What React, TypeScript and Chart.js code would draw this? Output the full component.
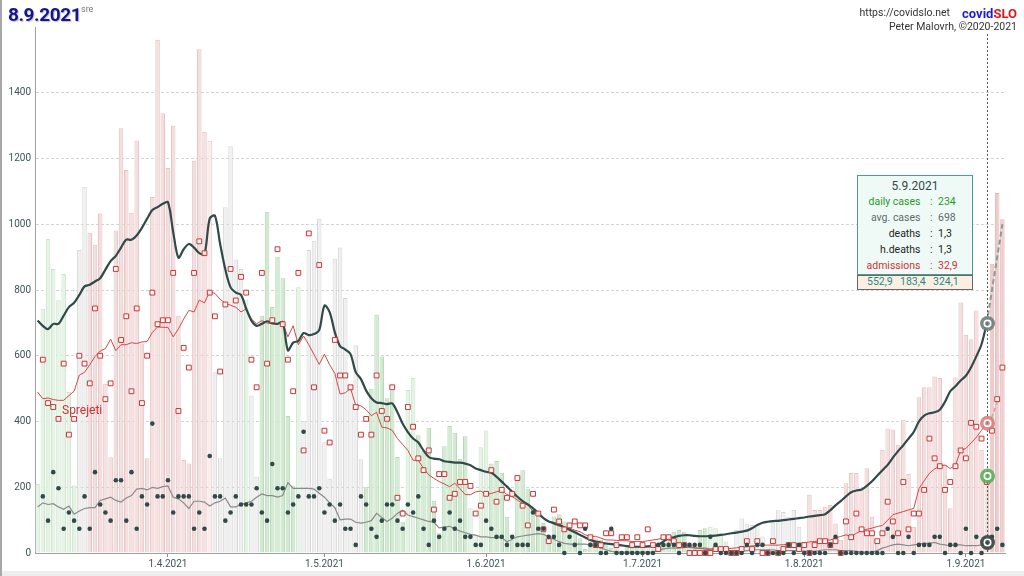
import React, { useEffect, useRef } from 'react';
import { Chart, registerables } from 'chart.js';

Chart.register(...registerables);

// ---------- DATA ----------
const START_DATE = [2021, 2, 7]; // 7.3.2021 (year, monthIndex, day)
const X_TICK_LABELS = ['1.4.2021', '1.5.2021', '1.6.2021', '1.7.2021', '1.8.2021', '1.9.2021'];

// daily confirmed cases
const CASES = [
  210, 743, 955, 864, 769, 849, 490, 205, 922, 1114,
  974, 938, 1033, 515, 291, 981, 1292, 1165, 1035, 1255,
  637, 288, 1083, 1561, 1338, 1171, 1300, 722, 283, 272,
  1193, 1532, 1281, 1253, 550, 288, 1052, 1237, 893, 864,
  771, 479, 233, 722, 1038, 748, 901, 836, 417, 205,
  808, 402, 922, 950, 1017, 337, 226, 895, 929, 776,
  510, 632, 285, 200, 500, 725, 598, 471, 494, 292,
  95, 496, 532, 358, 310, 381, 159, 60, 325, 386,
  366, 287, 355, 136, 55, 322, 373, 272, 280, 244,
  110, 40, 222, 252, 196, 131, 116, 91, 30, 111,
  118, 96, 80, 70, 45, 12, 50, 45, 40, 35,
  15, 20, 5, 25, 25, 22, 20, 18, 12, 4,
  30, 55, 65, 70, 65, 30, 12, 70, 75, 80,
  75, 60, 35, 15, 70, 105, 90, 85, 85, 50,
  20, 100, 130, 125, 110, 131, 80, 30, 177, 131,
  131, 141, 146, 90, 40, 212, 243, 243, 192, 258,
  110, 40, 314, 379, 376, 329, 405, 240, 80, 474,
  504, 504, 537, 532, 268, 136, 534, 762, 664, 650,
  738, 314, 234, 880, 1095, 1015,
];

// trend class of each day's bar: g = falling (light), G = falling, w = flat, p = rising, q = rising (light), h = latest days
const BAR_TREND_RUNS: [string, number][] = [
  ['g', 8], ['w', 2], ['p', 23], ['q', 1], ['w', 6], ['g', 1], ['w', 2], ['G', 7], ['g', 1], ['w', 12],
  ['G', 8], ['g', 2], ['G', 10], ['g', 4], ['G', 30], ['g', 3], ['G', 9], ['g', 5], ['w', 13], ['p', 36], ['h', 3],
];

// 7-day average of cases
const AVG_CASES = [
  707, 691, 681, 697, 697, 722, 748, 761, 785, 811,
  816, 826, 836, 862, 888, 904, 929, 953, 953, 966,
  989, 1017, 1043, 1052, 1062, 1067, 976, 898, 924, 940,
  929, 912, 909, 1017, 1026, 940, 862, 808, 792, 785,
  743, 707, 691, 697, 705, 699, 697, 702, 616, 640,
  645, 669, 663, 666, 678, 753, 733, 671, 629, 619,
  605, 550, 529, 494, 471, 458, 456, 453, 455, 428,
  393, 368, 348, 336, 312, 292, 287, 285, 279, 277,
  275, 275, 272, 267, 257, 252, 247, 244, 232, 217,
  202, 186, 171, 158, 148, 136, 121, 106, 96, 91,
  86, 78, 71, 63, 55, 47, 40, 35, 32, 29,
  27, 25, 23, 21, 19, 19, 19, 20, 22, 25,
  35, 45, 48, 52, 54, 54, 52, 51, 51, 52,
  53, 55, 57, 60, 62, 65, 68, 75, 85, 92,
  95, 97, 98, 100, 102, 104, 106, 108, 111, 113,
  115, 118, 130, 145, 158, 172, 185, 190, 193, 204,
  218, 235, 252, 268, 290, 310, 328, 348, 368, 400,
  418, 425, 428, 436, 460, 492, 507, 525, 539, 565,
  598, 635, 698, null, null, null,
];
// projected average (dashed)
const AVG_PROJECTION_TAIL = [698, 800, 900, 1000];

// hospital admissions per day ("Sprejeti")
const ADMISSIONS = [
  null, 49, 38, 37, 34, 48, 30, 34, 50, 48,
  43, 62, 50, 39, 43, 72, 54, 60, 41, 62,
  38, 50, 66, 58, 59, 59, 71, 36, 52, 47,
  71, 79, 76, 66, 60, 46, 63, 72, 64, 70,
  66, 49, 42, 71, 48, 59, 77, 58, 49, 41,
  71, 26, 81, 42, 73, 31, 28, 54, 45, 45,
  42, 37, 30, 34, 30, 45, 36, 34, 42, 14,
  10, 37, 32, 24, 21, 26, 11, 20, 20, 14,
  15, 18, 18, 17, 10, 12, 15, 21, 13, 16,
  14, 15, 19, 12, 7, 15, 10, 6, 3, 11,
  8, 6, 7, 8, 7, 7, 4, 2, 2, 5,
  5, 2, 4, 4, 2, 4, 2, 6, 2, 1,
  4, 4, 3, 2, 2, 0, 0, 0, 0, 0,
  1, 1, 1, 0, 0, 1, 3, 1, 3, 0,
  0, 3, 0, 1, 2, 2, 1, 2, 0, 2,
  3, 3, 2, 3, 0, 8, 4, 10, 6, 5,
  5, 3, 5, 13, 8, 5, 18, 6, 10, 10,
  16, 29, 24, 22, 16, 18, 22, 26, 24, 33,
  32, 29, 18, 31, 39, 47,
];

// 7-day average of admissions
const ADMISSIONS_AVG = [
  40.8, 39.1, 39.3, 38.9, 38.7, 38.7, 39.9, 41.0, 45.1, 45.8,
  47.7, 49.8, 51.2, 51.8, 54.2, 51.3, 52.8, 52.8, 53.3, 53.1,
  53.5, 53.6, 55.9, 57.3, 57.2, 57.2, 54.8, 56.8, 59.3, 61.5,
  61.1, 64.1, 63.4, 66.3, 65.8, 64.3, 63.3, 62.8, 62.3, 61.1,
  61.9, 59.3, 58.1, 58.9, 58.3, 58.1, 58.1, 58.3, 54.8, 57.6,
  52.8, 55.0, 52.8, 50.3, 47.8, 50.4, 47.7, 45.5, 40.3, 40.6,
  41.7, 37.5, 37.3, 36.3, 34.8, 35.7, 31.9, 31.7, 31.1, 29.0,
  27.5, 26.0, 23.5, 23.5, 21.4, 19.8, 18.9, 18.1, 17.5, 16.8,
  17.7, 16.3, 14.8, 14.8, 15.5, 15.7, 14.8, 15.1, 15.5, 15.9,
  14.8, 14.3, 13.4, 12.6, 12.2, 10.5, 9.7, 8.8, 8.0, 7.3,
  6.8, 6.5, 6.3, 5.8, 5.4, 4.6, 4.2, 4.2, 3.8, 3.3,
  3.3, 3.2, 3.1, 3.1, 2.9, 2.9, 2.9, 3.1, 3.3, 3.5,
  3.8, 3.3, 2.9, 2.3, 2.0, 1.7, 1.3, 1.2, 1.0, 0.8,
  0.8, 0.9, 1.1, 1.2, 1.3, 1.5, 1.6, 1.8, 1.9, 2.0,
  2.0, 2.0, 2.0, 2.1, 2.2, 2.3, 2.4, 2.6, 2.8, 2.9,
  3.1, 3.3, 3.3, 3.8, 4.2, 4.6, 4.2, 5.0, 5.7, 6.0,
  6.3, 6.7, 7.0, 8.3, 9.7, 10.1, 10.5, 10.9, 11.3, 16.3,
  18.3, 20.2, 21.3, 22.1, 22.3, 21.4, 22.3, 26.0, 26.5, 27.9,
  29.3, 31.1, 32.9, null, null, null,
];
const ADMISSIONS_PROJECTION_TAIL = [32.9, 34.5, 38.3];

// deaths per day
const DEATHS = [
  null, 7, 4, 10, 8, 3, 5, 4, 3, 7,
  3, 10, 6, 5, 4, 9, 9, 4, 10, 3,
  7, 6, 16, 7, 7, 9, 5, 7, 7, 7,
  3, 5, 3, 12, 7, 7, 4, 5, 7, 6,
  6, 6, 8, 5, 4, 11, 8, 8, 5, 6,
  7, 15, 7, 7, 8, 5, 6, 4, 6, 3,
  3, 1, 7, 6, 3, 2, 4, 6, 6, 4,
  3, 6, 5, 7, 3, 1, 4, 2, 3, 5,
  3, 4, 2, 2, 1, 1, 4, 3, 2, 2,
  1, 2, 1, 1, 1, 5, 3, 3, 2, 2,
  1, 0, 2, 1, 0, 3, 1, 1, 0, 0,
  3, 0, 0, 0, 0, 0, 0, 0, 0, 1,
  1, 1, 1, 0, 1, 1, 1, 1, 0, 2,
  1, 0, 0, 0, 0, 0, 1, 0, 1, 1,
  0, 0, 0, 0, 1, 0, 1, 0, 0, 0,
  0, 0, 1, 2, 0, 0, 0, 0, 0, 0,
  0, 0, 0, 3, 2, 0, 0, 2, 0, 1,
  1, 1, 2, 2, 0, 1, 1, 0, 3, 0,
  2, 0, 1, 2, 3, 1,
];

// 7-day average of deaths
const DEATHS_AVG = [
  5.7, 6.2, 6.0, 6.1, 5.7, 5.4, 5.8, 4.8, 5.2, 5.5,
  5.6, 5.6, 6.5, 6.7, 6.9, 6.5, 6.3, 6.8, 7.1, 7.9,
  8.0, 7.8, 8.1, 8.0, 8.2, 8.3, 6.9, 6.7, 6.2, 5.5,
  6.4, 6.4, 6.3, 5.8, 6.2, 6.4, 6.8, 5.7, 5.7, 6.0,
  6.2, 6.4, 6.9, 7.3, 7.1, 7.1, 6.9, 7.1, 8.7, 8.0,
  8.0, 8.0, 8.0, 7.9, 7.4, 6.9, 6.2, 5.6, 4.1, 4.2,
  4.2, 3.8, 3.7, 3.8, 4.0, 4.9, 4.4, 3.9, 4.3, 4.9,
  5.3, 4.7, 4.5, 4.3, 4.1, 3.9, 3.8, 3.1, 3.2, 3.3,
  3.0, 2.7, 2.5, 2.3, 2.2, 2.0, 2.0, 1.9, 1.9, 1.9,
  1.4, 1.7, 2.0, 2.1, 2.2, 2.3, 2.4, 2.3, 2.0, 1.7,
  1.4, 1.2, 1.1, 1.1, 1.1, 1.1, 1.0, 0.8, 0.6, 0.4,
  0.2, 0.1, 0.1, 0.1, 0.1, 0.1, 0.1, 0.1, 0.1, 0.3,
  0.5, 0.6, 0.6, 0.6, 0.7, 0.7, 0.6, 0.6, 0.6, 0.5,
  0.5, 0.4, 0.3, 0.2, 0.2, 0.2, 0.3, 0.4, 0.4, 0.4,
  0.4, 0.4, 0.3, 0.3, 0.3, 0.3, 0.3, 0.2, 0.2, 0.2,
  0.3, 0.4, 0.4, 0.4, 0.3, 0.3, 0.3, 0.2, 0.1, 0.1,
  0.1, 0.3, 0.6, 0.8, 1.0, 1.1, 1.0, 0.9, 1.0, 1.1,
  1.2, 1.2, 1.3, 1.1, 1.0, 0.9, 1.0, 1.0, 0.9, 0.9,
  0.9, 1.0, 1.3, null, null, null,
];

const HIGHLIGHT_INDEX = 182; // 5.9.2021
const ADMISSIONS_SCALE = 12; // admissions drawn x12 on the case axis
const DEATHS_SCALE = 24.6; // deaths drawn x24.6 on the case axis
const Y_MAX = 1600;

const TOOLTIP_DATE = '5.9.2021';
const TOOLTIP_ROWS: [string, string, string][] = [
  ['daily cases', '234', '#1f9a1f'],
  ['avg. cases', '698', '#5b6b6b'],
  ['deaths', '1,3', '#222222'],
  ['h.deaths', '1,3', '#222222'],
  ['admissions', '32,9', '#cc3333'],
];
const TOOLTIP_FOOTER = ['552,9', '183,4', '324,1'];

// ---------- helpers ----------
const LABELS = CASES.map((_, i) => {
  const d = new Date(START_DATE[0], START_DATE[1], START_DATE[2] + i);
  return `${d.getDate()}.${d.getMonth() + 1}.${d.getFullYear()}`;
});

const BAR_TREND: string[] = [];
BAR_TREND_RUNS.forEach(([t, n]) => { for (let i = 0; i < n; i++) BAR_TREND.push(t); });

const TONES: Record<string, { fill: string; line: string }> = {
  g: { fill: '#e6f4e6', line: '#cbe3cb' },
  G: { fill: '#d1ead1', line: '#b6d7b6' },
  w: { fill: '#f0f0f0', line: '#d6d6d6' },
  p: { fill: '#f6dede', line: '#e4c3c3' },
  q: { fill: '#fbeded', line: '#ecd5d5' },
  h: { fill: '#f0cdcd', line: '#e4b8b8' },
};

const tail = (values: number[], total: number) => {
  const out: (number | null)[] = new Array(total).fill(null);
  values.forEach((v, i) => { out[HIGHLIGHT_INDEX + i] = v; });
  return out;
};

const overlayPlugin = {
  id: 'overlay',
  beforeDraw(chart: any) {
    const { ctx, width, height } = chart;
    ctx.save();
    ctx.fillStyle = '#ffffff';
    ctx.fillRect(0, 0, width, height);
    ctx.fillStyle = '#eeeeee';
    ctx.fillRect(0, height - 5, width, 5);
    ctx.fillStyle = '#a8a8a8';
    ctx.fillRect(0, 0, 2, height);
    ctx.restore();
  },
  afterDatasetsDraw(chart: any) {
    const { ctx, chartArea, scales } = chart;
    const x = Math.round(scales.x.getPixelForValue(HIGHLIGHT_INDEX)) + 0.5;
    ctx.save();
    ctx.strokeStyle = '#555555';
    ctx.lineWidth = 1;
    ctx.setLineDash([2, 2]);
    ctx.beginPath();
    ctx.moveTo(x, 34);
    ctx.lineTo(x, chartArea.bottom);
    ctx.stroke();
    ctx.setLineDash([]);
    const marks: [number, string][] = [
      [scales.y.getPixelForValue(AVG_CASES[HIGHLIGHT_INDEX] as number), 'rgba(110,125,123,0.9)'],
      [scales.yA.getPixelForValue(ADMISSIONS_AVG[HIGHLIGHT_INDEX] as number), 'rgba(215,120,120,0.85)'],
      [scales.y.getPixelForValue(CASES[HIGHLIGHT_INDEX]), 'rgba(90,175,90,0.9)'],
      [scales.yD.getPixelForValue(DEATHS_AVG[HIGHLIGHT_INDEX] as number), 'rgba(60,75,73,0.95)'],
    ];
    marks.forEach(([y, color]) => {
      ctx.beginPath();
      ctx.fillStyle = color;
      ctx.arc(x, y, 7.5, 0, Math.PI * 2);
      ctx.fill();
      ctx.beginPath();
      ctx.strokeStyle = '#ffffff';
      ctx.lineWidth = 1.6;
      ctx.arc(x, y, 3.2, 0, Math.PI * 2);
      ctx.stroke();
    });
    ctx.restore();
  },
};

// text placed by baseline (Roboto metrics, line-height 1)
const Txt = ({ x, y, size, color, weight, align, children, family }: any) => {
  const shift = align === 'right' ? 'translateX(-100%)' : align === 'center' ? 'translateX(-50%)' : 'none';
  return (
    <div
      style={{
        position: 'absolute',
        left: x,
        top: y - 0.842 * size,
        fontSize: size,
        lineHeight: 1,
        color,
        fontWeight: weight || 400,
        fontFamily: family || 'Roboto, sans-serif',
        whiteSpace: 'nowrap',
        transform: shift,
      }}
    >
      {children}
    </div>
  );
};

export default function App() {
  const ref = useRef<HTMLCanvasElement>(null);

  useEffect(() => {
    Chart.defaults.font.family = 'Roboto, sans-serif';
    const n = CASES.length;
    const chart = new Chart(ref.current as HTMLCanvasElement, {
      type: 'bar',
      data: {
        labels: LABELS,
        datasets: [
          {
            type: 'line',
            data: DEATHS as any,
            yAxisID: 'yD',
            showLine: false,
            pointStyle: 'circle',
            pointRadius: 2.3,
            pointBackgroundColor: '#2f4a48',
            pointBorderWidth: 0,
            clip: false as any,
            order: 1,
          } as any,
          {
            type: 'line',
            data: ADMISSIONS as any,
            yAxisID: 'yA',
            showLine: false,
            pointStyle: 'rect',
            pointRadius: 3.4,
            pointBackgroundColor: 'rgba(255,255,255,0.85)',
            pointBorderColor: '#cc3333',
            pointBorderWidth: 1,
            clip: false as any,
            order: 2,
          } as any,
          {
            type: 'line',
            data: AVG_CASES as any,
            yAxisID: 'y',
            borderColor: '#2f4a48',
            borderWidth: 2.2,
            pointRadius: 0,
            tension: 0.3,
            order: 3,
          } as any,
          {
            type: 'line',
            data: tail(AVG_PROJECTION_TAIL, n) as any,
            yAxisID: 'y',
            borderColor: '#8d9a98',
            borderWidth: 2,
            borderDash: [5, 3],
            pointRadius: 0,
            order: 3,
          } as any,
          {
            type: 'line',
            data: ADMISSIONS_AVG as any,
            yAxisID: 'yA',
            borderColor: '#cf4a4a',
            borderWidth: 1,
            pointRadius: 0,
            order: 4,
          } as any,
          {
            type: 'line',
            data: tail(ADMISSIONS_PROJECTION_TAIL, n) as any,
            yAxisID: 'yA',
            borderColor: '#e39a9a',
            borderWidth: 1.5,
            borderDash: [4, 3],
            pointRadius: 0,
            order: 4,
          } as any,
          {
            type: 'line',
            data: DEATHS_AVG as any,
            yAxisID: 'yD',
            borderColor: '#8a8a8a',
            borderWidth: 1.2,
            pointRadius: 0,
            order: 5,
          } as any,
          {
            type: 'bar',
            data: CASES,
            yAxisID: 'y',
            backgroundColor: BAR_TREND.map((t) => TONES[t].fill),
            borderColor: BAR_TREND.map((t) => TONES[t].line),
            borderWidth: 1,
            barPercentage: 0.86,
            categoryPercentage: 1,
            order: 10,
          } as any,
        ],
      },
      options: {
        animation: false,
        responsive: false,
        devicePixelRatio: 1,
        events: [],
        layout: { padding: { top: 27, right: 19, left: 0, bottom: 0 } },
        plugins: { legend: { display: false }, tooltip: { enabled: false } },
        scales: {
          x: {
            type: 'category',
            offset: true,
            grid: { display: true, drawOnChartArea: false, drawTicks: true, tickLength: 4, offset: false, color: '#8a8a8a' },
            border: { display: true, color: '#a0a0a0' },
            ticks: {
              autoSkip: false,
              maxRotation: 0,
              minRotation: 0,
              padding: 1,
              color: '#3d5656',
              font: { size: 10 },
              callback: (v: any) => (X_TICK_LABELS.includes(LABELS[v]) ? LABELS[v] : null),
            },
            afterFit: (s: any) => { s.height = 23; },
          },
          y: {
            min: 0,
            max: Y_MAX,
            grid: { color: '#d4d4d4', drawTicks: false },
            border: { display: true, color: '#a0a0a0', dash: [3, 2] },
            ticks: {
              stepSize: 200,
              padding: 4,
              color: '#3d5656',
              font: { size: 10 },
              callback: (v: any) => (v >= Y_MAX ? null : String(v)),
            },
            afterFit: (s: any) => { s.width = 35; },
          },
          yA: { display: false, min: 0, max: Y_MAX / ADMISSIONS_SCALE },
          yD: { display: false, min: 0, max: Y_MAX / DEATHS_SCALE },
        },
      } as any,
      plugins: [overlayPlugin],
    } as any);
    return () => chart.destroy();
  }, []);

  const rowY = (i: number) => 205.5 + i * 16;

  return (
    <div style={{ position: 'absolute', left: 0, top: 0, width: 1024, height: 576, overflow: 'hidden', background: '#fff' }}>
      <canvas ref={ref} width={1024} height={576} style={{ position: 'absolute', left: 0, top: 0 }} />

      <Txt x={8} y={20.5} size={19} color="#15158c" weight={700}>
        <span style={{ letterSpacing: '-0.4px', textShadow: '1px 1px 1px rgba(0,0,0,0.25)' }}>8.9.2021</span>
      </Txt>
      <Txt x={81} y={13} size={9} color="#777">sre</Txt>

      <Txt x={950} y={17} size={10.5} color="#333" align="right">https://covidslo.net</Txt>
      <Txt x={1017} y={17.5} size={13} weight={700} color="#1c1ce0" align="right">
        covid<span style={{ color: '#e01818' }}>SLO</span>
      </Txt>
      <Txt x={1017} y={31} size={10.5} color="#333" align="right">Peter Malovrh, ©2020-2021</Txt>

      <Txt x={62} y={414} size={12} color="#c83232">Sprejeti</Txt>

      <div style={{ position: 'absolute', left: 857, top: 175, width: 116, height: 100, boxSizing: 'border-box', border: '1px solid #4b9c92', background: '#effaf7' }} />
      <div style={{ position: 'absolute', left: 857, top: 275, width: 116, height: 15, boxSizing: 'border-box', border: '1px solid #666', background: '#fcefe2' }} />
      <Txt x={915} y={190} size={12} color="#2f4a48" align="center">{TOOLTIP_DATE}</Txt>
      {TOOLTIP_ROWS.map(([label, value, color], i) => (
        <React.Fragment key={label}>
          <Txt x={920.5} y={rowY(i)} size={10.5} color={color} align="right">{label}</Txt>
          <Txt x={930} y={rowY(i)} size={10.5} color={color}>:</Txt>
          <Txt x={938} y={rowY(i)} size={10.5} color={color}>{value}</Txt>
        </React.Fragment>
      ))}
      <Txt x={867} y={286} size={10.5} color="#1c8a8a">{TOOLTIP_FOOTER[0]}</Txt>
      <Txt x={900} y={286} size={10.5} color="#1c8a8a">{TOOLTIP_FOOTER[1]}</Txt>
      <Txt x={933} y={286} size={10.5} color="#1c8a8a">{TOOLTIP_FOOTER[2]}</Txt>
    </div>
  );
}
